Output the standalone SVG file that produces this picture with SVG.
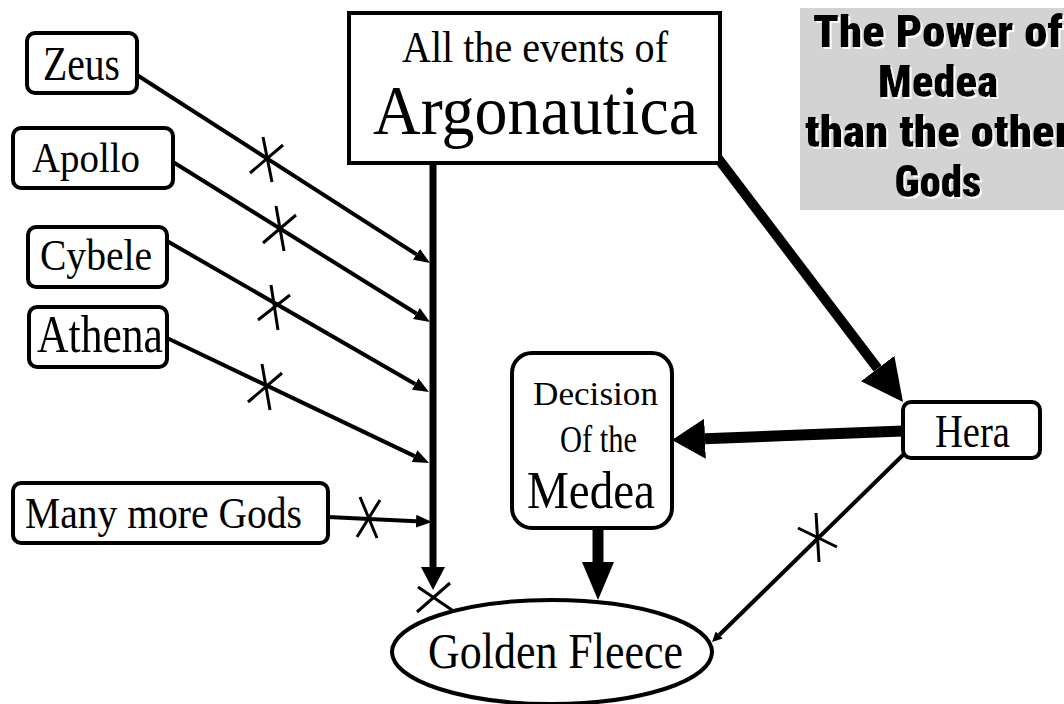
<svg xmlns="http://www.w3.org/2000/svg" width="1064" height="704" viewBox="0 0 1064 704">
  <style>
    .box { fill: #fff; stroke: #000; stroke-width: 4; }
    .lbl { font-family: "Liberation Serif", "Times New Roman", serif; fill: #000; }
    .thin { stroke: #000; stroke-width: 4; fill: none; }
    .x { stroke: #000; stroke-width: 3; fill: none; }
    .title { font-family: "Liberation Sans Narrow", "Roboto Condensed", "DejaVu Sans Condensed", "Liberation Sans", sans-serif; font-weight: 900; font-size: 45px; fill: #000; text-anchor: middle; }
  </style>
  <defs>
    <marker id="ah-thin" markerUnits="userSpaceOnUse" markerWidth="16" markerHeight="13" refX="0" refY="6.5" orient="auto">
      <path d="M0,0 L16,6.5 L0,13 z" fill="#000"/>
    </marker>
    <marker id="ah-small" markerUnits="userSpaceOnUse" markerWidth="10" markerHeight="10" refX="0" refY="5" orient="auto">
      <path d="M0,0 L10,5 L0,10 z" fill="#000"/>
    </marker>
    <marker id="ah-main" markerUnits="userSpaceOnUse" markerWidth="23" markerHeight="24" refX="0" refY="12" orient="auto">
      <path d="M0,0 L23,12 L0,24 z" fill="#000"/>
    </marker>
    <marker id="ah-big" markerUnits="userSpaceOnUse" markerWidth="42" markerHeight="42" refX="0" refY="21" orient="auto">
      <path d="M0,0 L42,21 L0,42 z" fill="#000"/>
    </marker>
    <marker id="ah-hera" markerUnits="userSpaceOnUse" markerWidth="33" markerHeight="40" refX="0" refY="20" orient="auto">
      <path d="M0,0 L33,20 L0,40 z" fill="#000"/>
    </marker>
    <marker id="ah-dec" markerUnits="userSpaceOnUse" markerWidth="38" markerHeight="32" refX="0" refY="16" orient="auto">
      <path d="M0,0 L38,16 L0,32 z" fill="#000"/>
    </marker>
    <filter id="shadow" x="-5%" y="-5%" width="110%" height="120%">
      <feDropShadow dx="2" dy="2" stdDeviation="0.5" flood-color="#ffffff" flood-opacity="0.9"/>
    </filter>
  </defs>

  <rect width="1064" height="704" fill="#fff"/>

  <!-- Title panel -->
  <g id="title">
    <rect x="800" y="8" width="270" height="202" fill="#d3d3d3"/>
    <g filter="url(#shadow)">
      <text class="title" x="938" y="47" textLength="250" lengthAdjust="spacingAndGlyphs">The Power of</text>
      <text class="title" x="938" y="97" textLength="120" lengthAdjust="spacingAndGlyphs">Medea</text>
      <text class="title" x="938" y="147" textLength="266" lengthAdjust="spacingAndGlyphs">than the other</text>
      <text class="title" x="938" y="197" textLength="87" lengthAdjust="spacingAndGlyphs">Gods</text>
    </g>
  </g>

  <!-- Connectors -->
  <g id="connectors">
    <!-- main vertical -->
    <line x1="433" y1="160" x2="433" y2="567" stroke="#000" stroke-width="7" marker-end="url(#ah-main)"/>
    <path class="x" d="M417,612 L450,583 M418,587 L452,610"/>
    <!-- gods to main line -->
    <line class="thin" x1="137" y1="75" x2="416.5" y2="254.4" marker-end="url(#ah-thin)"/>
    <path class="x" d="M250,173 L283,145 M263,137 L272,182"/>
    <line class="thin" x1="173" y1="162" x2="416.4" y2="313.5" marker-end="url(#ah-thin)"/>
    <path class="x" d="M263,243 L296,215 M276,206 L284,251"/>
    <line class="thin" x1="167" y1="241" x2="415.1" y2="384" marker-end="url(#ah-thin)"/>
    <path class="x" d="M258,320 L290,295 M271,285 L278,330"/>
    <line class="thin" x1="167" y1="338" x2="414.6" y2="456.1" marker-end="url(#ah-thin)"/>
    <path class="x" d="M248,402 L282,373 M262,364 L270,410"/>
    <line class="thin" x1="328" y1="517" x2="416" y2="521.2" marker-end="url(#ah-thin)"/>
    <path class="x" d="M357,537 L380,500 M360,497 L377,538"/>
    <!-- Argonautica to Hera -->
    <line x1="717" y1="157" x2="877.6" y2="368.6" stroke="#000" stroke-width="10" marker-end="url(#ah-big)"/>
    <!-- Hera to Decision -->
    <line x1="903" y1="431" x2="705" y2="438.7" stroke="#000" stroke-width="11" marker-end="url(#ah-hera)"/>
    <!-- Decision to Golden Fleece -->
    <line x1="598" y1="528" x2="598" y2="562" stroke="#000" stroke-width="11" marker-end="url(#ah-dec)"/>
    <!-- Hera to Golden Fleece -->
    <line class="thin" x1="903" y1="455" x2="719.2" y2="635" marker-end="url(#ah-small)"/>
    <path class="x" d="M798,528 L837,547 M816,513 L819,562"/>
  </g>

  <!-- Nodes -->
  <g id="zeus">
    <rect class="box" x="27" y="33" width="110" height="60" rx="8"/>
    <text class="lbl" x="43" y="80" font-size="48" textLength="77" lengthAdjust="spacingAndGlyphs">Zeus</text>
  </g>
  <g id="apollo">
    <rect class="box" x="13" y="128" width="160" height="60" rx="8"/>
    <text class="lbl" x="32" y="172" font-size="42" textLength="108" lengthAdjust="spacingAndGlyphs">Apollo</text>
  </g>
  <g id="cybele">
    <rect class="box" x="28" y="227" width="139" height="60" rx="8"/>
    <text class="lbl" x="40" y="270" font-size="45" textLength="112" lengthAdjust="spacingAndGlyphs">Cybele</text>
  </g>
  <g id="athena">
    <rect class="box" x="29" y="307" width="138" height="60" rx="8"/>
    <text class="lbl" x="37" y="352" font-size="53" textLength="126" lengthAdjust="spacingAndGlyphs">Athena</text>
  </g>
  <g id="many-gods">
    <rect class="box" x="13" y="483" width="315" height="60" rx="8"/>
    <text class="lbl" x="25" y="528" font-size="45" textLength="277" lengthAdjust="spacingAndGlyphs">Many more Gods</text>
  </g>
  <g id="argonautica">
    <rect class="box" x="349" y="13" width="371" height="150" stroke-width="5"/>
    <text class="lbl" x="402" y="62" font-size="44" textLength="266" lengthAdjust="spacingAndGlyphs">All the events of</text>
    <text class="lbl" x="373" y="134" font-size="70" textLength="325" lengthAdjust="spacingAndGlyphs">Argonautica</text>
  </g>
  <g id="decision">
    <rect class="box" x="512" y="353" width="160" height="175" rx="20"/>
    <text class="lbl" x="533" y="405" font-size="33" textLength="125" lengthAdjust="spacingAndGlyphs">Decision</text>
    <text class="lbl" x="560" y="452" font-size="38" textLength="77" lengthAdjust="spacingAndGlyphs">Of the</text>
    <text class="lbl" x="527" y="508" font-size="53" textLength="128" lengthAdjust="spacingAndGlyphs">Medea</text>
  </g>
  <g id="hera">
    <rect class="box" x="903" y="402" width="137" height="56" rx="8"/>
    <text class="lbl" x="935" y="447" font-size="47" textLength="75" lengthAdjust="spacingAndGlyphs">Hera</text>
  </g>
  <g id="golden-fleece">
    <ellipse class="box" cx="552" cy="652" rx="160" ry="52"/>
    <text class="lbl" x="428" y="668" font-size="50" textLength="255" lengthAdjust="spacingAndGlyphs">Golden Fleece</text>
  </g>
</svg>
